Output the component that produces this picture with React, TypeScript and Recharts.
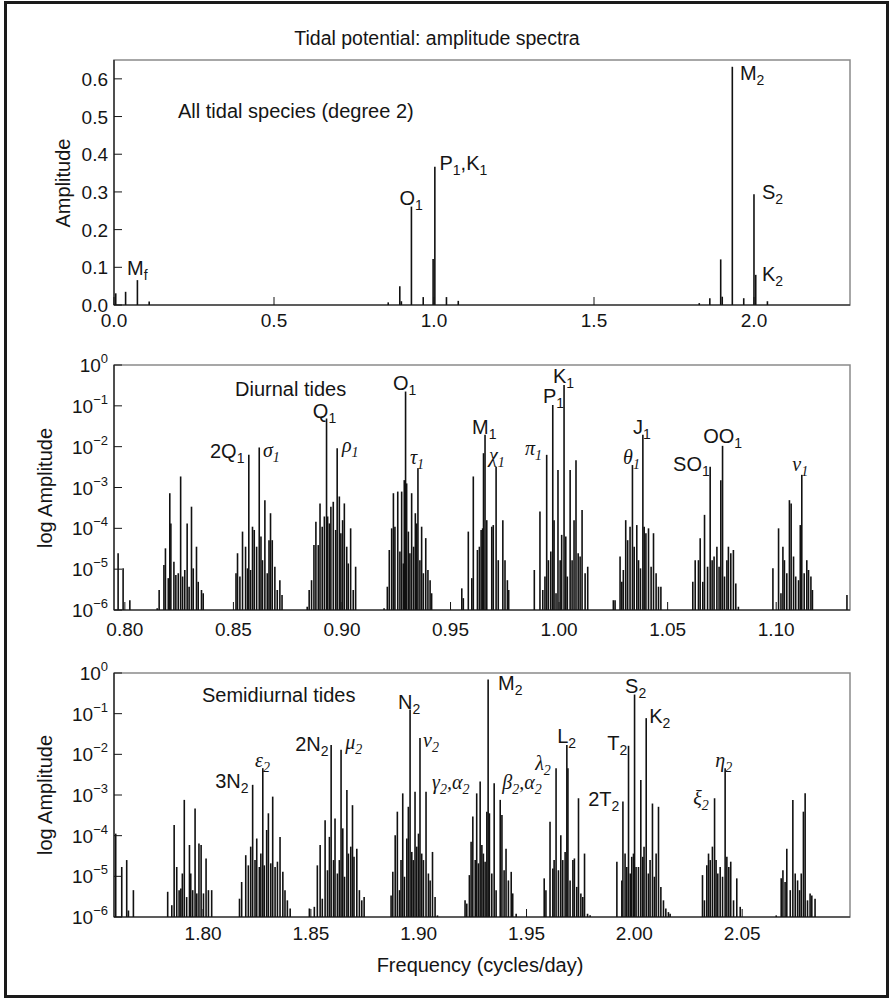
import React from "react";
import { ComposedChart, Bar, Scatter, XAxis, YAxis, ReferenceArea } from "recharts";

const SANS = '"Liberation Sans", Arial, Helvetica, sans-serif';
const SERIF = '"Liberation Serif", "Times New Roman", serif';
const INK = "#151515";
const LINE = "#111111";
const FRAME = "#8a8a8a";

// ---------- Panel 1: all tidal species (linear amplitude) ----------
// [frequency (cycles/day), amplitude]
const allSpeciesLines: [number, number][] = [
  [0.0055, 0.031], [0.0363, 0.035], [0.0732, 0.066], [0.110, 0.009],
  [0.857, 0.007], [0.8932, 0.05], [0.8981, 0.01], [0.9295, 0.261],
  [0.9664, 0.021], [0.9973, 0.122], [1.0027, 0.367], [1.039, 0.021], [1.0759, 0.011],
  [1.829, 0.005], [1.862, 0.018], [1.896, 0.121], [1.9008, 0.022], [1.9323, 0.632],
  [1.968, 0.018], [2.0, 0.294], [2.0055, 0.08], [2.042, 0.01],
];
// [label, frequency of text start, amplitude at text baseline]
const allSpeciesLabels: [string, number, number][] = [
  ["M_f", 0.0407, 0.0796], ["O_1", 0.892, 0.265], ["P_1,K_1", 1.017, 0.358],
  ["M_2", 1.956, 0.597], ["S_2", 2.025, 0.281], ["K_2", 2.025, 0.0637],
];
const allXTicks = [0, 0.5, 1.0, 1.5, 2.0];
const allYTicks = [0, 0.1, 0.2, 0.3, 0.4, 0.5, 0.6];

// ---------- Panel 2: diurnal tides ----------
// [frequency (cycles/day), log10 amplitude]
const diurnalLines: [number, number][] = [
  [0.7969, -4.61], [0.7992, -4.98], [0.8023, -5.76],
  [0.8149, -5.96], [0.8158, -5.51], [0.818, -4.9], [0.8187, -4.49], [0.82, -5.22], [0.8207, -3.14], [0.8212, -3.88],
  [0.8226, -4.82], [0.8235, -5.14], [0.8246, -5.1], [0.8257, -2.73], [0.8266, -5.18], [0.8276, -5.02], [0.8287, -3.88],
  [0.8296, -5.43], [0.8307, -3.47], [0.8315, -4.98], [0.833, -4.45], [0.8338, -5.31], [0.8353, -5.51], [0.8361, -5.59],
  [0.8512, -5.1], [0.8519, -4.61], [0.853, -5.18], [0.8542, -4.08], [0.8556, -4.45], [0.8565, -4.98], [0.8571, -2.2],
  [0.8579, -5.02], [0.8588, -3.96], [0.8596, -4.04], [0.8607, -4.45], [0.8619, -2.02], [0.8627, -4.2], [0.8634, -4.78],
  [0.8645, -3.31], [0.8656, -5.1], [0.8664, -4.29], [0.8671, -3.63], [0.8679, -4.29], [0.8691, -4.94], [0.8702, -5.51],
  [0.8714, -5.27], [0.8724, -5.63],
  [0.884, -5.92], [0.8849, -5.51], [0.886, -5.27], [0.8871, -4.41], [0.888, -3.84], [0.8891, -4.41], [0.8899, -3.39],
  [0.8909, -3.96], [0.8919, -3.71], [0.8929, -1.31], [0.8934, -3.71], [0.8942, -3.88], [0.8949, -3.47], [0.896, -3.35],
  [0.8971, -4.04], [0.8978, -2.04], [0.8988, -3.22], [0.8995, -4.12], [0.9003, -3.8], [0.9011, -3.39], [0.9022, -4.45],
  [0.9029, -4.86], [0.904, -4.0], [0.9052, -5.51], [0.9063, -4.94],
  [0.9194, -5.96], [0.9209, -5.43], [0.9218, -4.53], [0.9229, -4.0], [0.9237, -3.14], [0.9244, -3.96], [0.9257, -3.1],
  [0.9267, -4.57], [0.9275, -3.1], [0.9283, -4.86], [0.9287, -2.82], [0.9293, -0.65], [0.9298, -2.9], [0.9306, -4.08],
  [0.9313, -4.61], [0.9321, -3.14], [0.933, -4.45], [0.9338, -3.63], [0.9344, -3.88], [0.935, -2.53], [0.9359, -4.78],
  [0.9367, -3.96], [0.9375, -5.1], [0.9386, -4.24], [0.9396, -5.02], [0.9406, -5.27], [0.9413, -5.59],
  [0.9552, -5.47], [0.9559, -5.71], [0.9582, -4.08], [0.9598, -5.22], [0.9605, -2.73], [0.9624, -4.53], [0.9633, -4.45],
  [0.9641, -4.04], [0.9648, -4.0], [0.9652, -2.16], [0.9659, -1.71], [0.9667, -3.8], [0.969, -3.96], [0.9697, -3.92],
  [0.971, -2.49], [0.972, -4.78], [0.9741, -3.8], [0.9751, -4.78], [0.9762, -5.27], [0.9768, -5.51],
  [0.9886, -5.02], [0.9912, -3.59], [0.9925, -5.51], [0.9935, -5.18], [0.9943, -2.2], [0.9951, -4.78], [0.9962, -4.57],
  [0.9971, -0.98], [0.9977, -3.8], [0.9986, -5.59], [0.9995, -2.57], [1.0005, -4.78], [1.0012, -4.16], [1.0023, -0.49],
  [1.0031, -4.2], [1.0038, -5.18], [1.0051, -2.57], [1.006, -4.78], [1.0069, -3.8], [1.0078, -2.33], [1.0088, -4.61],
  [1.0097, -4.69], [1.0106, -3.55], [1.012, -5.1], [1.0132, -4.94],
  [1.025, -5.76], [1.0258, -5.76], [1.0281, -4.69], [1.0289, -5.31], [1.0296, -5.02], [1.0307, -3.8], [1.0316, -4.29],
  [1.0327, -3.96], [1.0338, -2.45], [1.0346, -4.45], [1.0358, -3.92], [1.0366, -4.78], [1.0375, -4.98], [1.0386, -1.71],
  [1.0392, -3.96], [1.04, -4.12], [1.0412, -4.0], [1.0424, -4.94], [1.0435, -4.12], [1.0447, -5.1], [1.0458, -5.43],
  [1.0469, -5.43],
  [1.0616, -5.31], [1.0627, -4.78], [1.0642, -4.78], [1.065, -4.24], [1.0662, -5.31], [1.067, -3.67], [1.0684, -4.94],
  [1.0696, -2.49], [1.0705, -4.78], [1.0714, -4.69], [1.0727, -4.45], [1.0737, -4.94], [1.0745, -2.82], [1.0753, -1.98],
  [1.0762, -5.18], [1.0773, -4.78], [1.078, -4.45], [1.0791, -4.61], [1.0803, -4.53], [1.0814, -5.35], [1.0826, -5.92],
  [1.0985, -4.98], [1.1011, -4.0], [1.1022, -5.59], [1.1031, -4.45], [1.1038, -4.78], [1.1049, -5.1], [1.1061, -3.31],
  [1.1069, -3.39], [1.108, -4.69], [1.109, -5.18], [1.1103, -5.27], [1.1111, -3.92], [1.1118, -2.69], [1.1129, -5.1],
  [1.1141, -4.78], [1.1149, -5.02], [1.116, -5.18], [1.1167, -5.51],
  [1.1326, -5.63],
];
const diurnalLabels: [string, number, number][] = [
  ["2Q_1", 0.8392, -2.28], ["σ_1", 0.8636, -2.25], ["Q_1", 0.8866, -1.3], ["ρ_1", 0.9, -2.13],
  ["O_1", 0.9235, -0.61], ["τ_1", 0.9313, -2.42], ["M_1", 0.9599, -1.69], ["χ_1", 0.9677, -2.38],
  ["π_1", 0.9843, -2.2], ["P_1", 0.9926, -0.93], ["K_1", 0.9972, -0.44], ["θ_1", 1.0295, -2.42],
  ["J_1", 1.0341, -1.69], ["SO_1", 1.0525, -2.6], ["OO_1", 1.0664, -1.91], ["ν_1", 1.1074, -2.6],
];
const diurnalXTicks = [0.8, 0.85, 0.9, 0.95, 1.0, 1.05, 1.1];

// ---------- Panel 3: semidiurnal tides ----------
const semidiurnalLines: [number, number][] = [
  [1.7595, -3.95], [1.7623, -4.77], [1.7646, -4.6], [1.7654, -5.84], [1.7677, -5.34],
  [1.7836, -5.38], [1.7855, -5.71], [1.7866, -3.74], [1.7878, -4.77], [1.7889, -5.34], [1.7897, -5.3], [1.7904, -4.93],
  [1.7913, -3.12], [1.7924, -5.51], [1.7937, -4.23], [1.7943, -4.93], [1.7952, -5.34], [1.7963, -3.33], [1.7971, -5.42],
  [1.7981, -4.19], [1.7991, -4.23], [1.8002, -5.42], [1.8014, -4.56], [1.8025, -5.34], [1.804, -5.34],
  [1.8169, -5.55], [1.8179, -5.14], [1.8198, -4.48], [1.821, -4.73], [1.8221, -4.27], [1.823, -2.75], [1.8241, -4.6],
  [1.8249, -4.07], [1.8261, -4.77], [1.8268, -4.44], [1.8277, -2.34], [1.8284, -4.73], [1.8295, -3.86], [1.8303, -3.45],
  [1.8314, -4.68], [1.8323, -3.04], [1.8334, -4.77], [1.8345, -4.64], [1.8357, -4.03], [1.837, -4.89], [1.838, -5.34],
  [1.8391, -5.59], [1.8404, -5.79],
  [1.8493, -5.79], [1.8516, -5.75], [1.853, -4.73], [1.8543, -4.23], [1.8553, -5.55], [1.8566, -3.62], [1.8577, -4.85],
  [1.8586, -4.03], [1.8594, -1.77], [1.8605, -4.6], [1.8612, -3.58], [1.8623, -4.93], [1.8632, -4.6], [1.864, -1.89],
  [1.8648, -3.82], [1.8656, -5.01], [1.8667, -2.88], [1.8674, -4.44], [1.8685, -4.27], [1.8693, -3.25], [1.87, -4.52],
  [1.8713, -4.32], [1.8725, -5.34], [1.8736, -5.59], [1.8747, -5.51],
  [1.8872, -5.47], [1.888, -4.89], [1.8891, -3.99], [1.8901, -3.41], [1.8911, -5.34], [1.8918, -4.6], [1.8926, -2.96],
  [1.8934, -5.01], [1.8945, -4.07], [1.8952, -3.29], [1.896, -0.9], [1.8968, -4.4], [1.8975, -4.6], [1.8983, -2.92],
  [1.8991, -4.27], [1.8999, -3.95], [1.9006, -1.6], [1.9014, -4.44], [1.9022, -4.6], [1.9034, -2.92], [1.9045, -4.93],
  [1.9053, -5.1], [1.9064, -4.4], [1.9076, -5.51], [1.9087, -5.96],
  [1.9215, -5.59], [1.9223, -5.67], [1.9235, -4.97], [1.9243, -4.15], [1.9251, -3.53], [1.9262, -4.6], [1.9269, -2.96],
  [1.9277, -4.68], [1.9285, -2.67], [1.9293, -4.23], [1.93, -4.44], [1.9308, -4.64], [1.9316, -3.41], [1.9322, -0.16],
  [1.9328, -3.45], [1.9339, -4.93], [1.935, -2.71], [1.9359, -5.34], [1.9378, -3.12], [1.9386, -3.49], [1.9396, -4.85],
  [1.9405, -4.32], [1.9416, -5.1], [1.9429, -4.89], [1.9436, -5.42], [1.9452, -5.92],
  [1.9582, -5.05], [1.959, -5.34], [1.9609, -3.66], [1.9622, -4.81], [1.9628, -4.6], [1.9637, -2.34], [1.9648, -4.85],
  [1.9659, -3.99], [1.9668, -4.6], [1.9679, -4.4], [1.9687, -1.77], [1.9692, -2.34], [1.9702, -5.1], [1.9715, -4.6],
  [1.9722, -4.56], [1.9733, -5.26], [1.9741, -3.08], [1.9752, -5.42], [1.9761, -5.51], [1.9769, -4.44], [1.9783, -5.92],
  [1.9795, -5.96],
  [1.9919, -4.64], [1.9942, -5.1], [1.9947, -3.16], [1.9957, -4.44], [1.9965, -4.77], [1.9973, -1.79], [1.9981, -4.93],
  [1.9988, -4.52], [1.9996, -4.44], [2.0001, -0.53], [2.0008, -4.77], [2.0019, -4.77], [2.003, -2.63], [2.0039, -4.52],
  [2.0045, -4.27], [2.0055, -1.11], [2.0065, -4.93], [2.0073, -4.6], [2.0084, -3.21], [2.0093, -5.01], [2.0101, -4.44],
  [2.0112, -3.29], [2.0123, -5.26], [2.0135, -5.59], [2.0146, -5.79], [2.0158, -5.88], [2.0166, -5.92],
  [2.0316, -4.97], [2.0325, -5.59], [2.0336, -4.73], [2.0344, -4.44], [2.0352, -4.6], [2.0362, -4.27], [2.0372, -3.08],
  [2.0379, -4.6], [2.0387, -4.93], [2.0398, -4.77], [2.0409, -5.01], [2.0421, -2.34], [2.0429, -4.52], [2.0438, -4.77],
  [2.0447, -4.64], [2.046, -5.59], [2.0475, -5.05], [2.0491, -5.75],
  [2.0658, -5.96], [2.0681, -5.05], [2.0689, -4.85], [2.0699, -5.14], [2.0707, -4.32], [2.0723, -5.34], [2.0735, -3.12],
  [2.0746, -4.93], [2.0757, -5.1], [2.0766, -5.34], [2.0774, -4.93], [2.0784, -3.41], [2.0792, -2.96], [2.0803, -5.59],
  [2.0815, -5.42], [2.0823, -5.47], [2.0838, -5.55],
];
const semidiurnalLabels: [string, number, number][] = [
  ["3N_2", 1.8056, -2.83], ["ε_2", 1.8241, -2.31], ["2N_2", 1.8427, -1.92], ["μ_2", 1.8659, -1.86],
  ["N_2", 1.8904, -0.88], ["ν_2", 1.902, -1.82], ["γ_2,α_2", 1.9062, -2.85], ["M_2", 1.9368, -0.41],
  ["β_2,α_2", 1.9387, -2.85], ["λ_2", 1.954, -2.38], ["L_2", 1.9642, -1.72], ["T_2", 1.9874, -1.89],
  ["2T_2", 1.9786, -3.27], ["S_2", 1.9957, -0.49], ["K_2", 2.0069, -1.23], ["ξ_2", 2.0273, -3.25],
  ["η_2", 2.0375, -2.31],
];
const semidiurnalXTicks = [1.8, 1.85, 1.9, 1.95, 2.0, 2.05];
const logYTicks = [1e-6, 1e-5, 1e-4, 1e-3, 1e-2, 1e-1, 1];

// ---------- helpers ----------
const linRows = (arr: [number, number][]) => arr.map(([f, a]) => ({ f, a }));
const logRows = (arr: [number, number][]) => arr.map(([f, e]) => ({ f, a: Math.pow(10, e) }));
const linLabelRows = (arr: [string, number, number][]) => arr.map(([t, f, a]) => ({ t, f, a }));
const logLabelRows = (arr: [string, number, number][]) => arr.map(([t, f, e]) => ({ t, f, a: Math.pow(10, e) }));

const TICK_GAP = 6;
const TICK_LEN = 8;

function LabelText(props: any) {
  const { cx, cy, payload } = props;
  if (cx == null || cy == null) return null;
  const text: string = payload.t;
  const greek = /[\u0370-\u03FF]/.test(text);
  const parts: React.ReactNode[] = [];
  let i = 0;
  let k = 0;
  let inSub = false;
  while (i < text.length) {
    if (text[i] === "_") {
      parts.push(
        <tspan key={k++} fontSize={14} dy={5}>
          {text[i + 1]}
        </tspan>
      );
      inSub = true;
      i += 2;
    } else {
      let j = i;
      while (j < text.length && text[j] !== "_") j++;
      parts.push(
        <tspan key={k++} dy={inSub ? -5 : 0}>
          {text.slice(i, j)}
        </tspan>
      );
      inSub = false;
      i = j;
    }
  }
  return (
    <text
      x={cx}
      y={cy}
      fontSize={20}
      fontFamily={greek ? SERIF : SANS}
      fontStyle={greek ? "italic" : "normal"}
      fill={INK}
    >
      {parts}
    </text>
  );
}

function SpectralLine(props: any) {
  const { x, y, width, height } = props;
  if (x == null || y == null || !height || height <= 0) return null;
  const cx = x + width / 2;
  return <line x1={cx} x2={cx} y1={y} y2={y + height} stroke={LINE} strokeWidth={1.6} />;
}

function LinYTick(props: any) {
  const { x, y, payload } = props;
  return (
    <g>
      <line x1={x + TICK_GAP} x2={x + TICK_GAP + TICK_LEN} y1={y} y2={y} stroke={INK} strokeWidth={1} />
      <text x={x} y={y} dy={7} textAnchor="end" fontSize={19} fontFamily={SANS} fill={INK}>
        {Number(payload.value).toFixed(1)}
      </text>
    </g>
  );
}

function LogYTick(props: any) {
  const { x, y, payload } = props;
  const ex = Math.round(Math.log10(payload.value));
  return (
    <g>
      <line x1={x + TICK_GAP} x2={x + TICK_GAP + TICK_LEN} y1={y} y2={y} stroke={INK} strokeWidth={1} />
      <text x={x} y={y} dy={7} textAnchor="end" fontSize={19} fontFamily={SANS} fill={INK}>
        10
        <tspan dy={-9} fontSize={13}>
          {ex === 0 ? "0" : "\u2212" + Math.abs(ex)}
        </tspan>
      </text>
    </g>
  );
}

function makeXTick(digits: number, baseline: number) {
  return function XTick(props: any) {
    const { x, y, payload } = props;
    return (
      <g>
        <line x1={x} x2={x} y1={y} y2={y - TICK_LEN} stroke={INK} strokeWidth={1} />
        <text x={x} y={y + baseline} textAnchor="middle" fontSize={19} fontFamily={SANS} fill={INK}>
          {Number(payload.value).toFixed(digits)}
        </text>
      </g>
    );
  };
}

type PanelProps = {
  top: number;
  height: number;
  marginTop: number;
  xAxisHeight: number;
  lines: { f: number; a: number }[];
  labels: { t: string; f: number; a: number }[];
  xDomain: [number, number];
  xTicks: number[];
  xDigits: number;
  xBaseline: number;
  log: boolean;
  yDomain: [number, number];
  yTicks: number[];
};

function Panel(p: PanelProps) {
  return (
    <div style={{ position: "absolute", left: 0, top: p.top }}>
      <ComposedChart
        width={894}
        height={p.height}
        data={p.lines}
        margin={{ top: p.marginTop, right: 44, bottom: 0, left: 0 }}
      >
        <ReferenceArea
          x1={p.xDomain[0]}
          x2={p.xDomain[1]}
          y1={p.yDomain[0]}
          y2={p.yDomain[1]}
          fill="none"
          stroke={FRAME}
          strokeWidth={1.5}
          ifOverflow="visible"
        />
        <XAxis
          dataKey="f"
          type="number"
          domain={p.xDomain}
          allowDataOverflow
          ticks={p.xTicks}
          interval={0}
          height={p.xAxisHeight}
          tickSize={0}
          tickMargin={0}
          tickLine={false}
          axisLine={{ stroke: INK, strokeWidth: 1.2 }}
          tick={makeXTick(p.xDigits, p.xBaseline)}
        />
        <YAxis
          dataKey="a"
          type="number"
          scale={p.log ? "log" : "linear"}
          domain={p.yDomain}
          allowDataOverflow
          ticks={p.yTicks}
          interval={0}
          width={114}
          tickSize={0}
          tickMargin={TICK_GAP}
          tickLine={false}
          axisLine={{ stroke: INK, strokeWidth: 1.2 }}
          tick={p.log ? LogYTick : LinYTick}
        />
        <Bar dataKey="a" fill={LINE} barSize={2} shape={SpectralLine} isAnimationActive={false} />
        <Scatter data={p.labels} dataKey="a" shape={LabelText} isAnimationActive={false} />
      </ComposedChart>
    </div>
  );
}

export default function App() {
  return (
    <div
      style={{
        position: "absolute",
        left: 0,
        top: 0,
        width: 894,
        height: 1001,
        background: "#fff",
        overflow: "hidden",
      }}
    >
      <div
        style={{
          position: "absolute",
          left: 4,
          top: 1,
          width: 879,
          height: 991,
          border: "3px solid #1a1a1a",
        }}
      />
      <Panel
        top={0}
        height={345}
        marginTop={60}
        xAxisHeight={40}
        lines={linRows(allSpeciesLines)}
        labels={linLabelRows(allSpeciesLabels)}
        xDomain={[0, 2.3]}
        xTicks={allXTicks}
        xDigits={1}
        xBaseline={22}
        log={false}
        yDomain={[0, 0.65]}
        yTicks={allYTicks}
      />
      <Panel
        top={340}
        height={315}
        marginTop={25}
        xAxisHeight={45}
        lines={logRows(diurnalLines)}
        labels={logLabelRows(diurnalLabels)}
        xDomain={[0.795, 1.134]}
        xTicks={diurnalXTicks}
        xDigits={2}
        xBaseline={26}
        log={true}
        yDomain={[1e-6, 1]}
        yTicks={logYTicks}
      />
      <Panel
        top={650}
        height={302}
        marginTop={23}
        xAxisHeight={35}
        lines={logRows(semidiurnalLines)}
        labels={logLabelRows(semidiurnalLabels)}
        xDomain={[1.7587, 2.1]}
        xTicks={semidiurnalXTicks}
        xDigits={2}
        xBaseline={23}
        log={true}
        yDomain={[1e-6, 1]}
        yTicks={logYTicks}
      />
      <svg
        width={894}
        height={1001}
        style={{ position: "absolute", left: 0, top: 0, pointerEvents: "none" }}
      >
        <g fontFamily={SANS} fill={INK}>
          <text x={437} y={45} fontSize={19.5} textAnchor="middle">
            Tidal potential: amplitude spectra
          </text>
          <text x={178} y={118} fontSize={20}>
            All tidal species (degree 2)
          </text>
          <text x={235} y={396} fontSize={20}>
            Diurnal tides
          </text>
          <text x={202} y={702} fontSize={20}>
            Semidiurnal tides
          </text>
          <text x={480} y={972} fontSize={20} textAnchor="middle">
            Frequency (cycles/day)
          </text>
          <text transform="translate(70,183) rotate(-90)" fontSize={20} textAnchor="middle">
            Amplitude
          </text>
          <text transform="translate(52,488) rotate(-90)" fontSize={20} textAnchor="middle">
            log Amplitude
          </text>
          <text transform="translate(52,795) rotate(-90)" fontSize={20} textAnchor="middle">
            log Amplitude
          </text>
        </g>
      </svg>
    </div>
  );
}
